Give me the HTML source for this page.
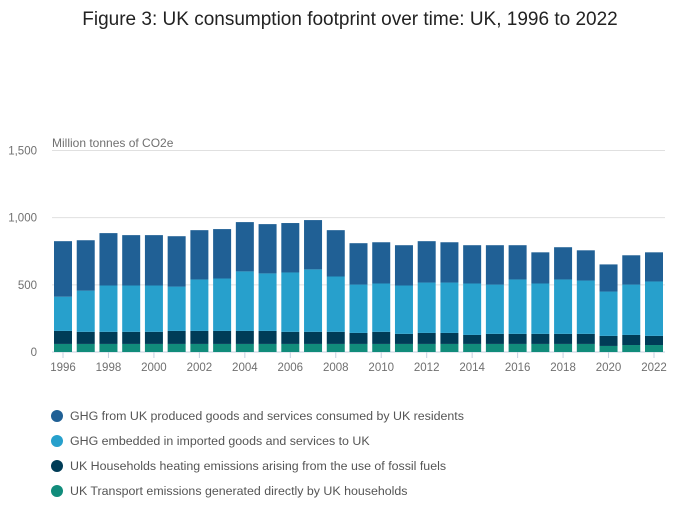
<!DOCTYPE html>
<html><head><meta charset="utf-8"><style>
body{margin:0;background:#fff;font-family:"Liberation Sans",sans-serif;}
</style></head><body>
<svg id="chart" width="700" height="502" font-family="Liberation Sans, sans-serif">
<text x="350" y="25" text-anchor="middle" font-size="19" fill="#222">Figure 3: UK consumption footprint over time: UK, 1996 to 2022</text>
<text x="52" y="147" font-size="12" fill="#707070">Million tonnes of CO2e</text>
<g id="grid"></g><g id="bars"></g><g id="xaxis"></g><g id="legend"></g>
</svg>
<script>
const years=[1996,1997,1998,1999,2000,2001,2002,2003,2004,2005,2006,2007,2008,2009,2010,2011,2012,2013,2014,2015,2016,2017,2018,2019,2020,2021,2022];
const transport=[60,60,60,60,60,60,60,60,60,60,60,60,60,60,60,60,60,60,60,60,60,60,60,60,45,52,52];
const heating=[97,90,90,90,90,97,97,97,97,97,90,90,90,82,90,75,82,82,67,75,75,75,75,75,75,75,68];
const imported=[255,307,345,345,345,330,383,390,443,428,442,465,412,360,360,360,375,375,383,367,405,375,405,397,330,375,405];
const produced=[413,375,390,375,375,375,367,368,367,367,368,367,345,308,307,300,308,300,285,293,255,232,240,225,202,218,217];
const yTicks=[0,500,1000,1500];
const yTickLabels=["0","500","1,000","1,500"];
const series=[
 {name:"GHG from UK produced goods and services consumed by UK residents",vals:produced,color:"#206095",id:"produced"},
 {name:"GHG embedded in imported goods and services to UK",vals:imported,color:"#27a0cc",id:"imported"},
 {name:"UK Households heating emissions arising from the use of fossil fuels",vals:heating,color:"#003c57",id:"heating"},
 {name:"UK Transport emissions generated directly by UK households",vals:transport,color:"#118c7b",id:"transport"}];
const NS="http://www.w3.org/2000/svg";
function y(v){return 352-v*(201.5/1500);}
function x(i){return 63+i*(591/26);}
function mk(t,a,p){const e=document.createElementNS(NS,t);for(const k in a)e.setAttribute(k,a[k]);p.appendChild(e);return e;}
const grid=document.getElementById('grid');
yTicks.forEach((t,i)=>{
 const l=mk('line',{x1:52,x2:665,y1:y(t),y2:y(t),stroke:i==0?'#c5d0e0':'#e0e0e0','stroke-width':1},grid);
 
 
 const tx=mk('text',{x:37,y:y(t)+4,'text-anchor':'end','font-size':11.5,fill:'#707070'},grid);
 tx.textContent=yTickLabels[i];
 
 
});
const bars=document.getElementById('bars');
years.forEach((yr,i)=>{
 let cum=0;
 [series[3],series[2],series[1],series[0]].forEach(s=>{
  const v=s.vals[i];
  const r=mk('rect',{x:x(i)-9,width:18,y:y(cum+v),height:y(cum)-y(cum+v),fill:s.color},bars);
  
  
  cum+=v;
 });
});
const xa=document.getElementById('xaxis');
years.forEach((yr,i)=>{
 if(yr%2)return;
 mk('line',{x1:x(i),x2:x(i),y1:352,y2:358,stroke:'#c5d0e0'},xa);
 const t=mk('text',{x:x(i),y:371,'text-anchor':'middle','font-size':11.5,fill:'#707070'},xa);
 t.textContent=yr;
 
 
});
const lg=document.getElementById('legend');
series.forEach((s,i)=>{
 const g=mk('g',{},lg);
 
 
 mk('circle',{cx:57,cy:416+i*25,r:6,fill:s.color},g);
 const t=mk('text',{x:70,y:420+i*25,'font-size':12.4,fill:'#555'},g);
 t.textContent=s.name;
});
</script>
</body></html>
